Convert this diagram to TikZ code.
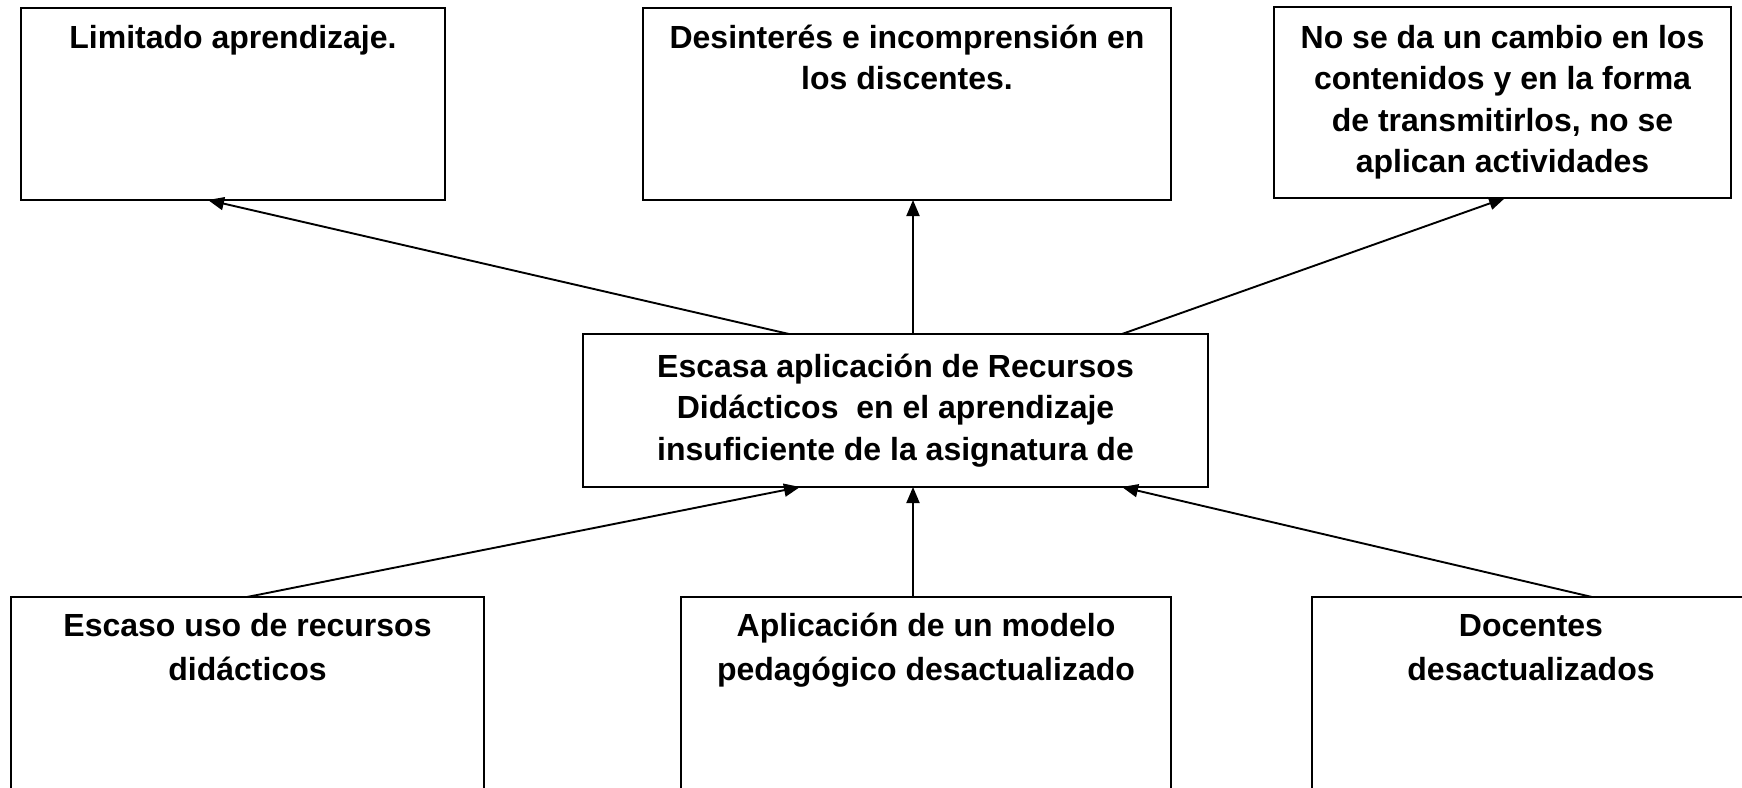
\documentclass[tikz,border=0pt]{standalone}
\usepackage{fontspec}
\setmainfont{Liberation Sans}
\usetikzlibrary{arrows.meta,calc}
\begin{document}
\begin{tikzpicture}[x=1pt,y=-1pt,
  boxn/.style={draw=black, line width=1.9pt, inner sep=0pt, outer sep=0pt, fill=none},
  txt/.style={anchor=base, align=center, inner sep=0pt, font=\bfseries\fontsize{32}{41.5}\selectfont},
  txtb/.style={anchor=base, align=center, inner sep=0pt, font=\bfseries\fontsize{32}{44}\selectfont},
  conn/.style={line width=1.9pt, -{Triangle[length=16pt,width=13pt]}}]
\useasboundingbox (0,0) rectangle (1742,787);
\clip (0,0) rectangle (1742,787);
% top boxes
\node[boxn, minimum width=424pt, minimum height=192pt] (b1) at (233,104) {};
\node[boxn, minimum width=528pt, minimum height=192pt] (b2) at (907,104) {};
\node[boxn, minimum width=457pt, minimum height=191pt] (b3) at (1502.5,102.5) {};
% center
\node[boxn, minimum width=625pt, minimum height=153pt] (c) at (895.5,410.5) {};
% bottom boxes
\node[boxn, minimum width=473pt, minimum height=213pt] (d1) at (247.5,703.5) {};
\node[boxn, minimum width=490pt, minimum height=213pt] (d2) at (926,703.5) {};
\node[boxn, minimum width=438pt, minimum height=213pt] (d3) at (1531,703.5) {};
% texts (anchor = baseline of last line)
\node[txt] (t1) at (233,48) {Limitado aprendizaje.};
\node[txt] (t2) at (907,89.5) {Desinterés e incomprensión en\\los discentes.};
\node[txt] (t3) at (1502.5,172.5) {No se da un cambio en los\\contenidos y en la forma\\de transmitirlos, no se\\aplican actividades};
\node[txt] (tc) at (895.5,460) {Escasa aplicación de Recursos\\Didácticos\ \ en el aprendizaje\\insuficiente de la asignatura de};
\node[txtb] (u1) at (247.5,680) {Escaso uso de recursos\\didácticos};
\node[txtb] (u2) at (926,680) {Aplicación de un modelo\\pedagógico desactualizado};
\node[txtb] (u3) at (1531,680) {Docentes\\desactualizados};
% connectors
\draw[conn] ($(c.north west)+(206,0)$) -- ($(b1.south west)+(187,0)$);
\draw[conn] ($(c.north west)+(330,0)$) -- ($(b2.south west)+(270,0)$);
\draw[conn] ($(c.north west)+(539,0)$) -- ($(b3.south west)+(231,0)$);
\draw[conn] ($(d1.north west)+(236,0)$) -- ($(c.south west)+(217,0)$);
\draw[conn] ($(d2.north west)+(232,0)$) -- ($(c.south west)+(330,0)$);
\draw[conn] ($(d3.north west)+(280,0)$) -- ($(c.south west)+(539,0)$);
\end{tikzpicture}
\end{document}
